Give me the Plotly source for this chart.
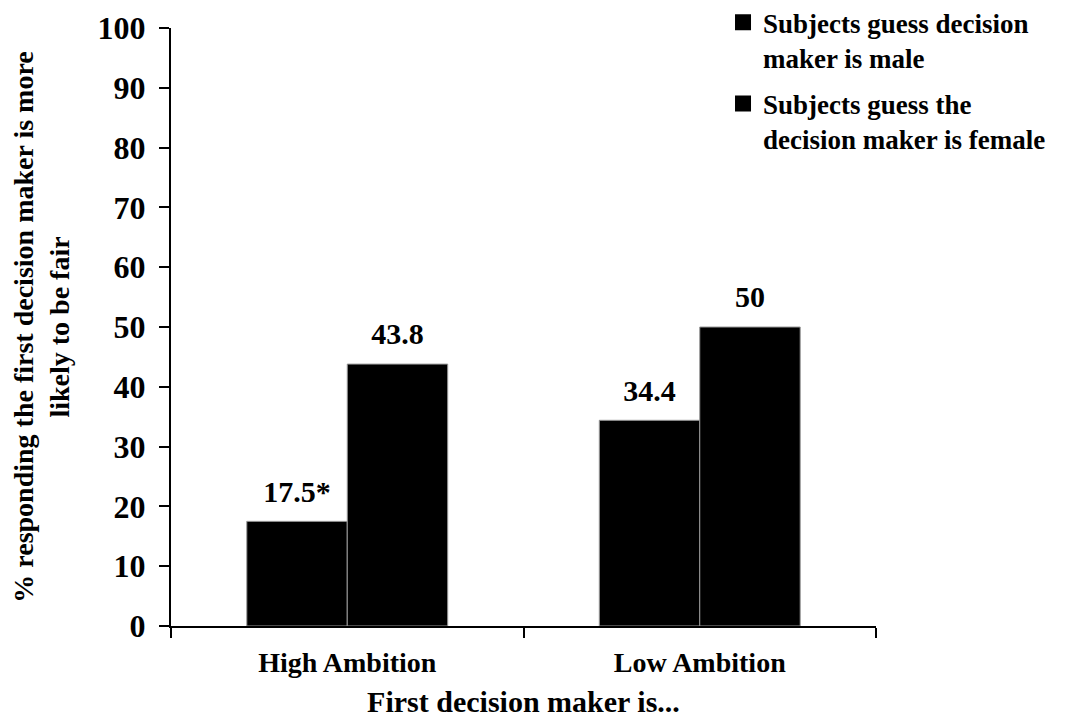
import plotly.graph_objects as go

# data
categories = ["High Ambition", "Low Ambition"]
male_vals = [17.5, 34.4]
female_vals = [43.8, 50]
male_labels = ["17.5*", "34.4"]
female_labels = ["43.8", "50"]
series_names = ["Subjects guess decision<br>maker is male",
                "Subjects guess the<br>decision maker is female"]
y_ticks = list(range(0, 101, 10))

FONT = "Liberation Serif"

fig = go.Figure()
series = [(male_vals, male_labels, series_names[0], "m"),
          (female_vals, female_labels, series_names[1], "f")]
for vals, labels, name, grp in series:
    fig.add_trace(go.Bar(
        x=categories, y=vals, name=name, offsetgroup=grp, showlegend=False,
        marker=dict(color="black", line=dict(color="#999999", width=1)),
    ))
    # value labels sit a bit above the bars, like the original
    fig.add_trace(go.Scatter(
        x=categories, y=vals, offsetgroup=grp, mode="markers+text", showlegend=False,
        text=labels, textposition="top center", cliponaxis=False, hoverinfo="skip",
        marker=dict(size=18, opacity=0),
        textfont=dict(family=FONT, size=30, color="black", weight="bold"),
    ))
    # legend entry with a bigger square
    fig.add_trace(go.Scatter(
        x=[None], y=[None], mode="markers", name=name, legendgroup=grp,
        marker=dict(symbol="square", size=18, color="black"),
    ))

# page body has an 8px margin, so margins are trimmed by that
fig.update_layout(
    width=1088, height=721,
    margin=dict(l=163, r=220, t=20, b=103, autoexpand=False),
    plot_bgcolor="white", paper_bgcolor="white",
    font=dict(family=FONT, color="black", weight="bold"),
    barmode="group", bargap=0.43, bargroupgap=0,
    scattermode="group", scattergap=0.43,
    showlegend=True,
    legend=dict(x=0.783, y=1.0497, xanchor="left", yanchor="top", valign="top",
                font=dict(family=FONT, size=27, weight="bold"),
                tracegroupgap=8, bgcolor="rgba(0,0,0,0)"),
    xaxis=dict(
        showline=True, linecolor="black", linewidth=2,
        ticks="outside", tickson="boundaries", ticklen=10, tickwidth=2, tickcolor="black",
        ticklabelstandoff=10,
        tickfont=dict(family=FONT, size=28, weight="bold"),
        title=dict(text="First decision maker is...", font=dict(family=FONT, size=30, weight="bold"), standoff=14),
        showgrid=False,
    ),
    yaxis=dict(
        range=[0, 100], tickvals=y_ticks,
        showline=True, linecolor="black", linewidth=2,
        ticks="outside", ticklen=10, tickwidth=2, tickcolor="black",
        ticklabelstandoff=7, ticklabeloverflow="allow",
        tickfont=dict(family=FONT, size=32, weight="bold"),
        title=dict(text="% responding the first decision maker is more<br>likely to be fair",
                   font=dict(family=FONT, size=28, weight="bold"), standoff=36),
        showgrid=False, zeroline=False,
    ),
)

fig.write_html("out.html")
